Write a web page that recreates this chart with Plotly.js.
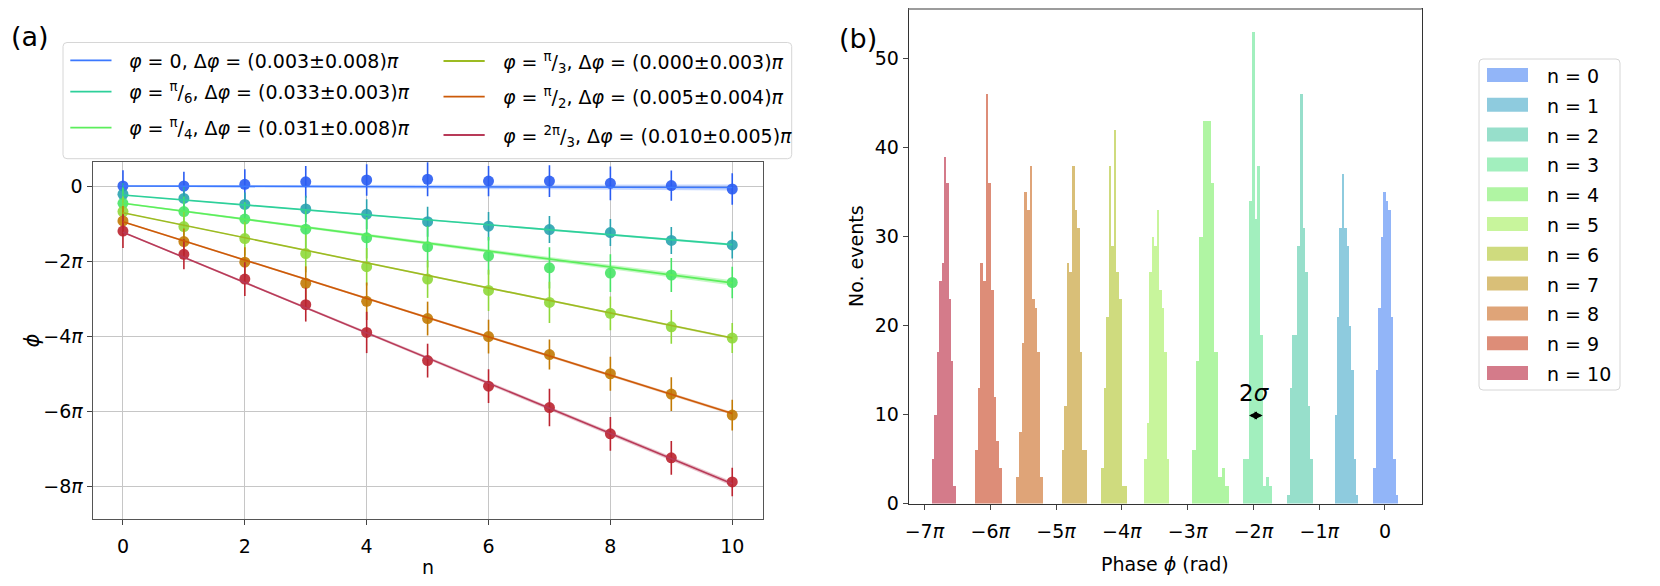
<!DOCTYPE html>
<html>
<head>
<meta charset="utf-8">
<script src="https://cdn.plot.ly/plotly-3.0.1.min.js"></script>
<style>
body { margin: 0; background: #fff; }
#chart { width: 1660px; height: 586px; }
</style>
</head>
<body>
<div id="chart"></div>
<script>
// ---- panel (a): measured phase against n, in units of pi ----
const nVals = [0, 1, 2, 3, 4, 5, 6, 7, 8, 9, 10];

const phaseZero      = [0, 0, 0.045, 0.11, 0.16, 0.18, 0.13, 0.13, 0.07, 0.01, -0.08];
const phaseSixth     = [-0.22, -0.33, -0.49, -0.61, -0.75, -0.95, -1.07, -1.16, -1.24, -1.45, -1.57];
const phaseQuarter   = [-0.46, -0.68, -0.88, -1.15, -1.38, -1.62, -1.86, -2.18, -2.32, -2.37, -2.57];
const phaseThird     = [-0.68, -1.08, -1.40, -1.80, -2.15, -2.48, -2.78, -3.10, -3.39, -3.75, -4.05];
const phaseHalf      = [-0.93, -1.48, -2.03, -2.59, -3.07, -3.53, -4.01, -4.49, -5.00, -5.54, -6.10];
const phaseTwoThirds = [-1.20, -1.82, -2.48, -3.16, -3.90, -4.65, -5.33, -5.90, -6.60, -7.24, -7.88];

const errZero      = [0.42, 0.38, 0.40, 0.42, 0.42, 0.45, 0.40, 0.42, 0.45, 0.40, 0.42];
const errSixth     = [0.30, 0.30, 0.32, 0.35, 0.40, 0.40, 0.38, 0.36, 0.36, 0.36, 0.36];
const errQuarter   = [0.42, 0.40, 0.45, 0.50, 0.55, 0.55, 0.50, 0.55, 0.50, 0.45, 0.42];
const errThird     = [0.40, 0.40, 0.45, 0.50, 0.50, 0.50, 0.55, 0.55, 0.45, 0.45, 0.40];
const errHalf      = [0.40, 0.35, 0.40, 0.45, 0.50, 0.45, 0.45, 0.40, 0.45, 0.45, 0.41];
const errTwoThirds = [0.45, 0.40, 0.45, 0.45, 0.55, 0.45, 0.45, 0.50, 0.45, 0.45, 0.38];

// straight-line fits (value at n=0 and n=10) and half width of their bands
const fitStart  = [0.00, -0.24, -0.46, -0.71, -0.95, -1.23];
const fitEnd    = [-0.04, -1.56, -2.58, -4.05, -6.06, -7.93];
const bandStart = [0.02, 0.01, 0.02, 0.01, 0.02, 0.02];
const bandEnd   = [0.08, 0.03, 0.07, 0.03, 0.04, 0.06];

const fitLabels = [
  '<i>φ</i> = 0, Δ<i>φ</i> = (0.003±0.008)<i>π</i>',
  '<i>φ</i> = <sup>π</sup>/<sub>6</sub>, Δ<i>φ</i> = (0.033±0.003)<i>π</i>',
  '<i>φ</i> = <sup>π</sup>/<sub>4</sub>, Δ<i>φ</i> = (0.031±0.008)<i>π</i>',
  '<i>φ</i> = <sup>π</sup>/<sub>3</sub>, Δ<i>φ</i> = (0.000±0.003)<i>π</i>',
  '<i>φ</i> = <sup>π</sup>/<sub>2</sub>, Δ<i>φ</i> = (0.005±0.004)<i>π</i>',
  '<i>φ</i> = <sup>2π</sup>/<sub>3</sub>, Δ<i>φ</i> = (0.010±0.005)<i>π</i>'
];

const phaseTicks = [0, -2, -4, -6, -8];
const phaseTickText = ['0', '−2<i>π</i>', '−4<i>π</i>', '−6<i>π</i>', '−8<i>π</i>'];

// ---- panel (b): histograms of the phase for each n (x in units of pi) ----
const counts0  = [4, 15, 22, 30, 35, 34, 33, 21, 5, 1];
const counts1  = [10, 21, 31, 37, 31, 29, 20, 15, 5, 1];
const counts2  = [1, 13, 19, 19, 29, 46, 31, 26, 11, 5];
const counts3  = [5, 5, 34, 53, 32, 38, 19, 2, 3, 2];
const counts4  = [6, 16, 30, 43, 43, 36, 17, 3, 4, 2];
const counts5  = [5, 9, 26, 30, 29, 33, 24, 22, 17, 5];
const counts6  = [4, 13, 21, 38, 29, 42, 26, 23, 2, 2];
const counts7  = [6, 11, 27, 26, 38, 33, 31, 17, 6, 6];
const counts8  = [3, 8, 18, 35, 33, 38, 23, 22, 17, 3];
const counts9  = [6, 13, 27, 25, 46, 36, 24, 12, 7, 4];
const counts10 = [5, 10, 17, 25, 27, 39, 36, 23, 16, 2];

const binLo = [-0.178, -0.764, -1.485, -2.163, -2.933, -3.658, -4.316, -4.913, -5.603, -6.231, -6.884];
const binHi = [0.202, -0.406, -1.099, -1.713, -2.371, -3.283, -3.926, -4.524, -5.202, -5.826, -6.524];

const histLabels = ['n = 0', 'n = 1', 'n = 2', 'n = 3', 'n = 4', 'n = 5',
                    'n = 6', 'n = 7', 'n = 8', 'n = 9', 'n = 10'];

const phaseAxisTicks = [-7, -6, -5, -4, -3, -2, -1, 0];
const phaseAxisText = ['−7<i>π</i>', '−6<i>π</i>', '−5<i>π</i>', '−4<i>π</i>',
                       '−3<i>π</i>', '−2<i>π</i>', '−1<i>π</i>', '0'];

// ---- styles ----
const lineColors   = ['#3b78ff', '#2dd09a', '#5cee5c', '#9cbb22', '#cc5a08', '#b83a58'];
const markerColors = ['#2a5cf2', '#2aa3b0', '#48e466', '#8fd83a', '#c27a04', '#bb2430'];
const bandColors   = ['rgba(59,120,255,0.3)', 'rgba(45,208,154,0.3)', 'rgba(92,238,92,0.35)',
                      'rgba(156,187,34,0.3)', 'rgba(204,90,8,0.3)', 'rgba(184,58,88,0.3)'];
const histColors = ['#92b5f8', '#8ecbde', '#97dfcb', '#a2efbe', '#b0f5a3', '#c8f59c',
                    '#cfdb7e', '#d9bf78', '#dfa478', '#dd8d78', '#d47b8a'];

const W = 1660, H = 586;
const X = (px) => px / W;
const Y = (py) => 1 - py / H;
const FONT = 'DejaVu Sans, Liberation Sans, sans-serif';

const phaseSeries = [phaseZero, phaseSixth, phaseQuarter, phaseThird, phaseHalf, phaseTwoThirds];
const errSeries = [errZero, errSixth, errQuarter, errThird, errHalf, errTwoThirds];
const histCounts = [counts0, counts1, counts2, counts3, counts4, counts5,
                    counts6, counts7, counts8, counts9, counts10];

const traces = [];

// bands, points and fit lines of panel (a)
phaseSeries.forEach((vals, i) => {
  traces.push({
    x: [0, 10, 10, 0, 0],
    y: [fitStart[i] - bandStart[i], fitEnd[i] - bandEnd[i], fitEnd[i] + bandEnd[i],
        fitStart[i] + bandStart[i], fitStart[i] - bandStart[i]],
    mode: 'lines', fill: 'toself', fillcolor: bandColors[i],
    line: {width: 0}, hoverinfo: 'skip', xaxis: 'x', yaxis: 'y'
  });
});
phaseSeries.forEach((vals, i) => {
  traces.push({
    x: nVals, y: vals, mode: 'markers', name: fitLabels[i],
    marker: {color: markerColors[i], size: 11, opacity: 0.9},
    error_y: {type: 'data', array: errSeries[i], color: markerColors[i], thickness: 1.6, width: 0},
    xaxis: 'x', yaxis: 'y'
  });
});
phaseSeries.forEach((vals, i) => {
  traces.push({
    x: [0, 10], y: [fitStart[i], fitEnd[i]], mode: 'lines', name: fitLabels[i],
    line: {color: lineColors[i], width: 1.6}, xaxis: 'x', yaxis: 'y'
  });
});

// histograms of panel (b), 10 equal bins each
histCounts.forEach((counts, k) => {
  const w = (binHi[k] - binLo[k]) / counts.length;
  traces.push({
    type: 'bar', name: histLabels[k],
    x: counts.map((c, j) => binLo[k] + (j + 0.5) * w),
    y: counts, width: counts.map(() => w),
    marker: {color: histColors[k], line: {width: 0}},
    xaxis: 'x2', yaxis: 'y2'
  });
});

const shapes = [];
const annotations = [];

function roundRect(x0, y0, x1, y1, r) {
  return `M ${X(x0 + r)},${Y(y0)} L ${X(x1 - r)},${Y(y0)} Q ${X(x1)},${Y(y0)} ${X(x1)},${Y(y0 + r)} ` +
         `L ${X(x1)},${Y(y1 - r)} Q ${X(x1)},${Y(y1)} ${X(x1 - r)},${Y(y1)} ` +
         `L ${X(x0 + r)},${Y(y1)} Q ${X(x0)},${Y(y1)} ${X(x0)},${Y(y1 - r)} ` +
         `L ${X(x0)},${Y(y0 + r)} Q ${X(x0)},${Y(y0)} ${X(x0 + r)},${Y(y0)} Z`;
}

// legend of panel (a)
shapes.push({type: 'path', xref: 'paper', yref: 'paper', path: roundRect(63, 42.5, 791.7, 158.7, 4),
             line: {color: '#d6d6d6', width: 1}, fillcolor: 'rgba(255,255,255,0.85)', layer: 'above'});
const legARowY = [[60.3, 91.7, 127.7], [61, 96.7, 135]];
const legASample = [[70.3, 111.5], [443.5, 484.7]];
const legAText = [127, 500.7];
fitLabels.forEach((lab, i) => {
  const col = i < 3 ? 0 : 1, row = i % 3;
  const yy = legARowY[col][row];
  shapes.push({type: 'line', xref: 'paper', yref: 'paper',
               x0: X(legASample[col][0]), x1: X(legASample[col][1]), y0: Y(yy), y1: Y(yy),
               line: {color: lineColors[i], width: 1.8}, layer: 'above'});
  annotations.push({xref: 'paper', yref: 'paper', x: X(legAText[col]), y: Y(yy + 1),
                    xanchor: 'left', yanchor: 'middle', showarrow: false, text: lab,
                    font: {family: FONT, size: 19, color: '#000'}});
});

// legend of panel (b)
shapes.push({type: 'path', xref: 'paper', yref: 'paper', path: roundRect(1479, 59, 1620, 390, 4),
             line: {color: '#d6d6d6', width: 1}, fillcolor: 'rgba(255,255,255,0.85)', layer: 'above'});
histLabels.forEach((lab, k) => {
  const cy = 75 + k * 29.8;
  shapes.push({type: 'rect', xref: 'paper', yref: 'paper',
               x0: X(1487), x1: X(1528), y0: Y(cy + 7), y1: Y(cy - 7),
               fillcolor: histColors[k], line: {width: 0}, layer: 'above'});
  annotations.push({xref: 'paper', yref: 'paper', x: X(1545), y: Y(cy + 1),
                    xanchor: 'left', yanchor: 'middle', showarrow: false, text: lab,
                    font: {family: FONT, size: 19, color: '#000'}});
});

// grey top spine of panel (b)
shapes.push({type: 'line', xref: 'paper', yref: 'paper', x0: X(908.7), x1: X(1421.7), y0: Y(9), y1: Y(9),
             line: {color: '#9c9c9c', width: 2}, layer: 'above'});

// panel letters, axis titles, 2σ marker
const txt = (x, y, text, size, extra) => Object.assign({xref: 'paper', yref: 'paper', x: X(x), y: Y(y),
  xanchor: 'center', yanchor: 'middle', showarrow: false, text: text,
  font: {family: FONT, size: size, color: '#000'}}, extra || {});
annotations.push(txt(30, 36, '(a)', 27));
annotations.push(txt(858, 39, '(b)', 27));
annotations.push(txt(427.6, 567, 'n', 19));
annotations.push(txt(31, 340.5, '<i>ϕ</i>', 21, {textangle: -90}));
annotations.push(txt(856, 256, 'No. events', 19, {textangle: -90}));
annotations.push(txt(1165, 564, 'Phase <i>ϕ</i> (rad)', 19));
annotations.push({xref: 'x2', yref: 'y2', x: -1.976, y: 12.4, showarrow: false, text: '2<i>σ</i>',
                  font: {family: FONT, size: 23, color: '#000'}});
annotations.push({xref: 'x2', yref: 'y2', axref: 'x2', ayref: 'y2', x: -1.86, y: 9.9, ax: -2.09, ay: 9.9,
                  text: '', showarrow: true, arrowside: 'end+start', arrowhead: 2, startarrowhead: 2,
                  arrowsize: 0.8, startarrowsize: 0.8, arrowwidth: 2, arrowcolor: '#000'});

const axisBase = {
  ticks: 'outside', ticklen: 5, tickwidth: 1, tickcolor: '#444',
  showline: true, mirror: true, linewidth: 1, zeroline: false,
  tickfont: {family: FONT, size: 19, color: '#000'}, fixedrange: true
};

const layout = {
  width: W, height: H,
  margin: {l: 0, r: 0, t: 0, b: 0},
  paper_bgcolor: '#fff', plot_bgcolor: '#fff',
  showlegend: false, barmode: 'overlay', bargap: 0,
  font: {family: FONT, size: 19, color: '#000'},
  xaxis: Object.assign({}, axisBase, {
    domain: [X(92.5), X(762.7)], range: [-0.5, 10.5], tickvals: [0, 2, 4, 6, 8, 10],
    linecolor: '#555', showgrid: true, gridcolor: '#c6c6c6', gridwidth: 1,
    anchor: 'y', ticklabelstandoff: 5
  }),
  yaxis: Object.assign({}, axisBase, {
    domain: [Y(519.3), Y(161.7)], range: [-8.876, 0.647],
    tickvals: phaseTicks, ticktext: phaseTickText,
    linecolor: '#555', showgrid: true, gridcolor: '#c6c6c6', gridwidth: 1, anchor: 'x'
  }),
  xaxis2: Object.assign({}, axisBase, {
    domain: [X(908.7), X(1421.7)], range: [-7.239, 0.558],
    tickvals: phaseAxisTicks, ticktext: phaseAxisText,
    linecolor: '#333', showgrid: false, anchor: 'y2', ticklabelstandoff: 6
  }),
  yaxis2: Object.assign({}, axisBase, {
    domain: [Y(503.5), Y(9)], range: [0, 55.6], dtick: 10, tick0: 0,
    linecolor: '#333', showgrid: false, anchor: 'x2'
  }),
  shapes: shapes,
  annotations: annotations
};

Plotly.newPlot('chart', traces, layout, {displayModeBar: false, staticPlot: true});
</script>
</body>
</html>
